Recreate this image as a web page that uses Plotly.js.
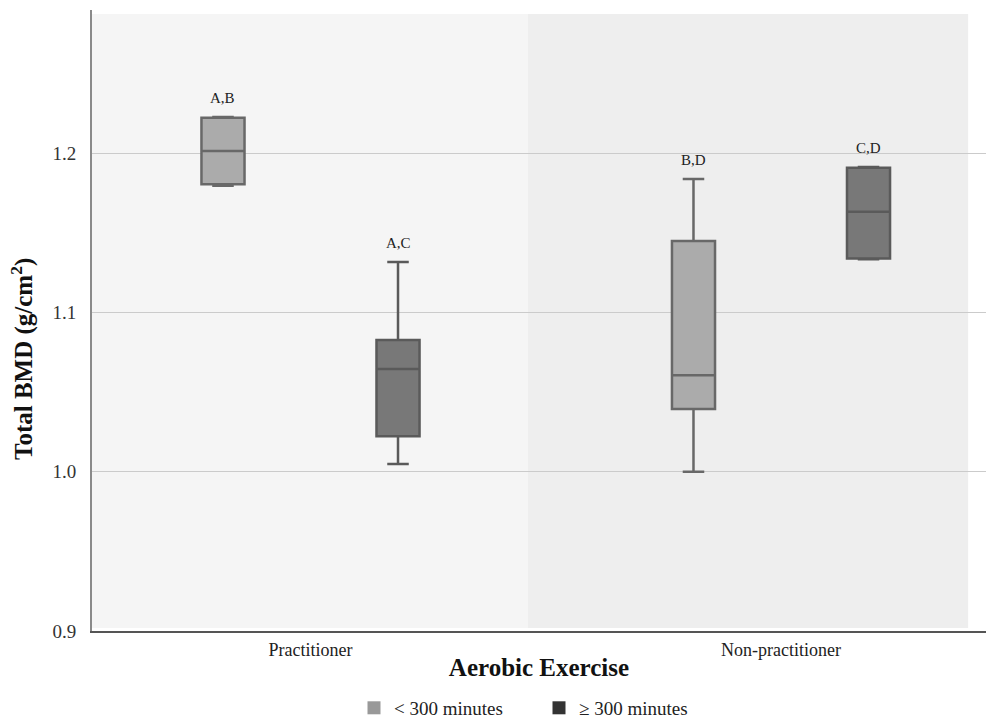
<!DOCTYPE html>
<html>
<head>
<meta charset="utf-8">
<script src="https://cdn.plot.ly/plotly-3.0.1.min.js"></script>
<style>html,body{margin:0;padding:0;background:#fff;}#chart{width:988px;height:718px;}</style>
</head>
<body>
<div id="chart"></div>
<script>
// Data
var categories = ["Practitioner", "Non-practitioner"];
var seriesNames = ["< 300 minutes", "\u2265 300 minutes"];
var lowUpper = [1.2226, 1.1837];
var lowQ3 = [1.2222, 1.1448];
var lowMedian = [1.2013, 1.0606];
var lowQ1 = [1.1805, 1.0393];
var lowLower = [1.1795, 1.0000];
var highUpper = [1.1316, 1.1912];
var highQ3 = [1.0826, 1.1908];
var highMedian = [1.0644, 1.1632];
var highQ1 = [1.0223, 1.1338];
var highLower = [1.0048, 1.1333];
var lowLetters = ["A,B", "B,D"];
var highLetters = ["A,C", "C,D"];
var yTicks = [0.9, 1.0, 1.1, 1.2];
var xTitle = "Aerobic Exercise";
var yTitle = "Total BMD (g/cm<sup>2</sup>)";

var boxgap = 0.256, boxgroupgap = 0.754;
var serif = "Times New Roman, Liberation Serif, DejaVu Serif, serif";

function boxTrace(name, lo, q1, med, q3, up, fill, line) {
  return {
    type: "box", name: name, x: categories,
    lowerfence: lo, q1: q1, median: med, q3: q3, upperfence: up,
    fillcolor: fill, line: {color: line, width: 2.5},
    whiskerwidth: 0.5, boxpoints: false, hoverinfo: "skip", showlegend: false
  };
}

var traces = [
  boxTrace(seriesNames[0], lowLower, lowQ1, lowMedian, lowQ3, lowUpper, "#ababab", "#686868"),
  boxTrace(seriesNames[1], highLower, highQ1, highMedian, highQ3, highUpper, "#787878", "#5a5a5a"),
  {type: "scatter", mode: "markers", x: [null], y: [null], name: seriesNames[0],
   marker: {symbol: "square", size: 13, color: "#999999"}, showlegend: true},
  {type: "scatter", mode: "markers", x: [null], y: [null], name: seriesNames[1],
   marker: {symbol: "square", size: 13, color: "#333333"}, showlegend: true}
];

var off = 0.25 * (1 - boxgap);
var annotations = [];
categories.forEach(function (c, i) {
  annotations.push({x: i - off, y: lowUpper[i], xref: "x", yref: "y", text: lowLetters[i],
    showarrow: false, yanchor: "bottom", yshift: 9, font: {family: serif, size: 15, color: "#222"}});
  annotations.push({x: i + off, y: highUpper[i], xref: "x", yref: "y", text: highLetters[i],
    showarrow: false, yanchor: "bottom", yshift: 9, font: {family: serif, size: 15, color: "#222"}});
});
annotations.push({xref: "paper", yref: "paper", x: 0, y: 0.438, xanchor: "center", yanchor: "middle",
  xshift: -70, textangle: -90, showarrow: false, text: "<b>" + yTitle + "</b>",
  font: {family: serif, size: 25, color: "#111"}});

var layout = {
  width: 988, height: 718,
  margin: {l: 92, r: 2, t: 10, b: 87, autoexpand: false},
  paper_bgcolor: "#ffffff", plot_bgcolor: "#ffffff",
  boxmode: "group", boxgap: boxgap, boxgroupgap: boxgroupgap,
  font: {family: serif, color: "#222"},
  shapes: [
    {type: "rect", xref: "paper", yref: "paper", x0: 0, x1: 0.4877, y0: 0.005, y1: 0.9936,
     fillcolor: "#f5f5f5", line: {width: 0}, layer: "below"},
    {type: "rect", xref: "paper", yref: "paper", x0: 0.4877, x1: 0.98, y0: 0.005, y1: 0.9936,
     fillcolor: "#eeeeee", line: {width: 0}, layer: "below"}
  ],
  xaxis: {
    type: "category", range: [-0.4644, 1.4357], automargin: false,
    showgrid: false, zeroline: false,
    showline: true, linecolor: "#555555", linewidth: 2,
    ticks: "", ticklabelstandoff: 1,
    tickfont: {family: serif, size: 18, color: "#222"},
    title: {text: "<b>" + xTitle + "</b>", font: {family: serif, size: 25, color: "#111"}, standoff: 0}
  },
  yaxis: {
    range: [0.9, 1.2898], tickvals: yTicks, tickformat: ".1f", automargin: false,
    showgrid: true, gridcolor: "#cbcbcb", gridwidth: 1,
    zeroline: false, showline: true, linecolor: "#8a8a8a", linewidth: 2,
    ticks: "", ticklabelstandoff: 10,
    tickfont: {family: serif, size: 19, color: "#333"}
  },
  legend: {orientation: "h", x: 0.5, xanchor: "center", yref: "container", y: 0.014, yanchor: "middle",
    font: {family: serif, size: 19, color: "#222"}, itemwidth: 30, traceorder: "normal",
    entrywidth: 140, entrywidthmode: "pixels",
    bgcolor: "rgba(0,0,0,0)"},
  annotations: annotations
};

Plotly.newPlot("chart", traces, layout, {displayModeBar: false, staticPlot: true});
</script>
</body>
</html>
